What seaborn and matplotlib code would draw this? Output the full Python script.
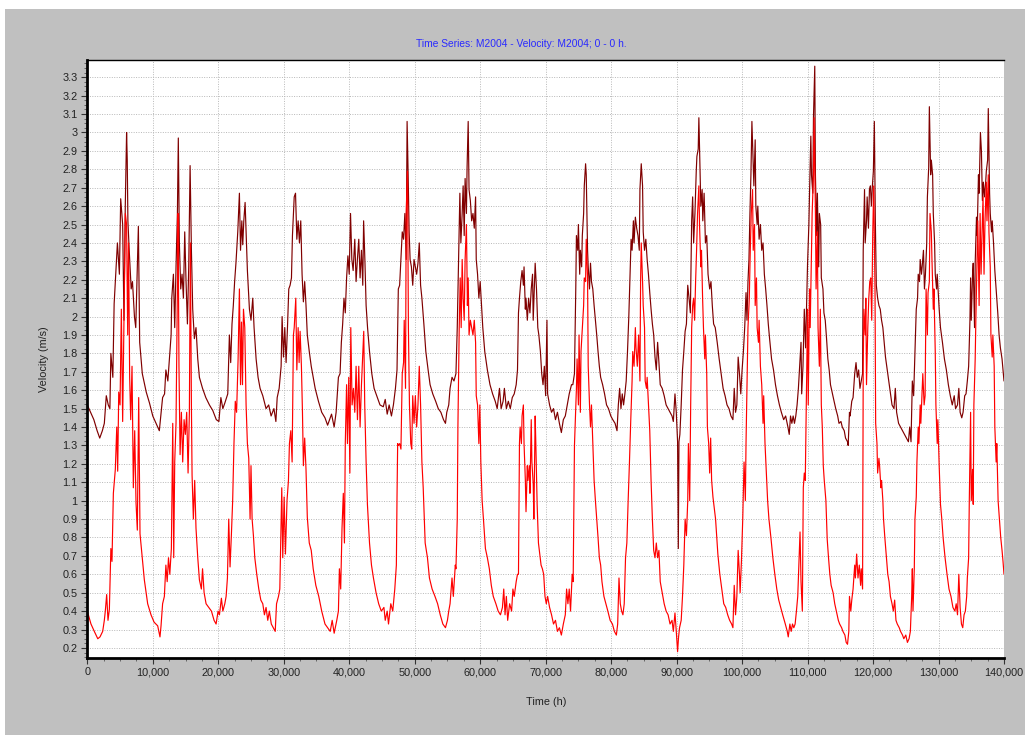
import numpy as np
import pandas as pd
import matplotlib
matplotlib.use("Agg")
import matplotlib.pyplot as plt
import matplotlib.patches as mpatches
from matplotlib.ticker import MultipleLocator, FuncFormatter
import seaborn as sns

# ---------------- data (time in thousands of hours, velocity in m/s) ----------------
upper = [
    (0, 1.52), (0.5, 1.48), (1.0, 1.44), (1.5, 1.38), (1.9, 1.34), (2.3, 1.38), (2.6, 1.42), (2.9, 1.57),
    (3.2, 1.52), (3.45, 1.5), (3.6, 1.8), (3.9, 1.67), (4.1, 2.07), (4.4, 2.27), (4.6, 2.4), (4.9, 2.23),
    (5.1, 2.64), (5.4, 2.5), (5.6, 1.98), (5.8, 2.6), (6.0, 3.0), (6.1, 2.85), (6.2, 2.52), (6.4, 2.36),
    (6.7, 2.15), (6.9, 2.19), (7.2, 2.0), (7.4, 1.94), (7.8, 2.49), (8.0, 1.86), (8.4, 1.69), (9.0, 1.59),
    (9.5, 1.53), (10.0, 1.46), (10.5, 1.42), (11.0, 1.38),
    (11.5, 1.56), (11.8, 1.58), (12.0, 1.71), (12.3, 1.65), (12.5, 1.75), (12.8, 1.9), (12.9, 2.1),
    (13.15, 2.23), (13.35, 1.94), (13.55, 2.27), (13.76, 2.56), (13.9, 2.97), (14.06, 2.4), (14.27, 2.15),
    (14.47, 2.23), (14.68, 2.1), (14.88, 2.46), (15.08, 2.19), (15.29, 1.96), (15.49, 2.27), (15.7, 2.82),
    (15.9, 2.36), (16.1, 2.04), (16.35, 1.88), (16.6, 1.94), (16.87, 1.77), (17.12, 1.67), (17.6, 1.61),
    (18.1, 1.56), (18.65, 1.52), (19.16, 1.49), (19.7, 1.44), (20.1, 1.43), (20.4, 1.56), (20.7, 1.5),
    (21.0, 1.53),
    (21.45, 1.58), (21.7, 1.9), (21.9, 1.75), (22.1, 1.96), (22.3, 2.06), (22.5, 2.19), (22.7, 2.29),
    (22.98, 2.46), (23.23, 2.67), (23.4, 2.36), (23.6, 2.52), (23.74, 2.39), (23.9, 2.52), (24.1, 2.62),
    (24.25, 2.46), (24.45, 2.25), (24.76, 2.04), (25.0, 1.98), (25.27, 2.1), (25.47, 1.94), (25.78, 1.77),
    (26.08, 1.67), (26.39, 1.61), (26.8, 1.57), (27.3, 1.5), (27.7, 1.52), (28.07, 1.46),
    (28.5, 1.5), (28.8, 1.43), (29.0, 1.56), (29.3, 1.61), (29.6, 1.73), (29.75, 2.0), (29.96, 1.78),
    (30.16, 1.94), (30.36, 1.75), (30.57, 1.94), (30.77, 2.15), (30.97, 2.17), (31.18, 2.21), (31.33, 2.44),
    (31.48, 2.56), (31.6, 2.65), (31.8, 2.67), (32.0, 2.42), (32.2, 2.52), (32.4, 2.4), (32.6, 2.52),
    (32.8, 2.23), (33.0, 2.08), (33.2, 2.19), (33.4, 2.06), (33.6, 1.9), (33.9, 1.81), (34.2, 1.73),
    (34.5, 1.67), (34.8, 1.61), (35.3, 1.54), (35.8, 1.48), (36.3, 1.45), (36.7, 1.41), (37.0, 1.44),
    (37.3, 1.47), (37.7, 1.4), (38.0, 1.48),
    (38.35, 1.67), (38.6, 1.69), (38.8, 1.86), (39.0, 1.96), (39.2, 2.1), (39.4, 2.02), (39.6, 2.21),
    (39.8, 2.33), (40.0, 2.23), (40.2, 2.56), (40.4, 2.31), (40.6, 2.25), (40.85, 2.42), (41.05, 2.19),
    (41.25, 2.31), (41.46, 2.42), (41.66, 2.21), (41.87, 2.36), (42.07, 2.17), (42.2, 2.52), (42.4, 2.3),
    (42.58, 2.06), (42.8, 1.94), (43.1, 1.81), (43.45, 1.69), (43.8, 1.61), (44.2, 1.57), (44.7, 1.52),
    (45.2, 1.51), (45.5, 1.55), (45.8, 1.47), (46.1, 1.52), (46.45, 1.46), (46.75, 1.52), (47.06, 1.61),
    (47.3, 1.71), (47.5, 2.15), (47.7, 2.17), (47.9, 2.31), (48.1, 2.46), (48.3, 2.42), (48.5, 2.56),
    (48.7, 2.31), (48.84, 3.06), (49.0, 2.77), (49.15, 2.46), (49.3, 2.31), (49.5, 2.27), (49.7, 2.17),
    (49.9, 2.31), (50.1, 2.27), (50.3, 2.23), (50.5, 2.29), (50.7, 2.4), (50.9, 2.17), (51.1, 2.1),
    (51.4, 1.96), (51.7, 1.81), (52.05, 1.71), (52.35, 1.63), (52.76, 1.58), (53.2, 1.54), (53.6, 1.5),
    (54.0, 1.48), (54.4, 1.44), (54.7, 1.42), (54.9, 1.48), (55.2, 1.52), (55.4, 1.61), (55.7, 1.67),
    (56.0, 1.65),
    (56.3, 1.69), (56.5, 1.94), (56.7, 2.31), (56.9, 2.67), (57.05, 2.4), (57.25, 2.56), (57.4, 2.71),
    (57.56, 2.44), (57.7, 2.75), (57.9, 2.56), (58.0, 2.81), (58.17, 3.06), (58.3, 2.69), (58.5, 2.63),
    (58.7, 2.52), (58.9, 2.56), (59.1, 2.48), (59.3, 2.65), (59.4, 2.31), (59.6, 2.23), (59.8, 2.1),
    (60.0, 2.19), (60.2, 2.06), (60.4, 1.94), (60.7, 1.81), (61.1, 1.71), (61.5, 1.63), (61.9, 1.58),
    (62.3, 1.54), (62.6, 1.5), (62.95, 1.61), (63.2, 1.5), (63.5, 1.54), (63.7, 1.61), (64.0, 1.5),
    (64.3, 1.54), (64.6, 1.5), (64.9, 1.56), (65.2, 1.58), (65.5, 1.63), (65.7, 1.71),
    (65.85, 2.02), (66.0, 2.1), (66.2, 2.19), (66.4, 2.25), (66.6, 2.17), (66.7, 2.27), (66.9, 2.04),
    (67.0, 2.1), (67.2, 1.98), (67.4, 2.1), (67.6, 2.02), (67.8, 2.15), (68.0, 2.23), (68.1, 1.98),
    (68.3, 2.19), (68.4, 2.29), (68.6, 2.15), (68.8, 1.94), (68.96, 1.9), (69.2, 1.81), (69.4, 1.69),
    (69.6, 1.63), (69.8, 1.73), (70.0, 1.57), (70.2, 1.98), (70.3, 1.58), (70.6, 1.52), (70.9, 1.48),
    (71.2, 1.5), (71.5, 1.44), (71.8, 1.48), (72.1, 1.42), (72.4, 1.37), (72.7, 1.44), (73.0, 1.46),
    (73.3, 1.52), (73.6, 1.58), (73.95, 1.63),
    (74.15, 1.63), (74.4, 1.69), (74.6, 2.15), (74.7, 2.44), (74.9, 2.36), (75.0, 2.5), (75.2, 2.23),
    (75.3, 2.36), (75.5, 2.27), (75.6, 2.44), (75.8, 2.56), (75.9, 2.71), (76.1, 2.83), (76.2, 2.77),
    (76.4, 2.36), (76.5, 2.27), (76.7, 2.15), (76.85, 2.29), (77.0, 2.19), (77.2, 2.15), (77.4, 2.06),
    (77.6, 1.98), (77.8, 1.9), (78.0, 1.81), (78.2, 1.73), (78.4, 1.67), (78.7, 1.63), (79.0, 1.58),
    (79.3, 1.52), (79.6, 1.5), (79.95, 1.46), (80.25, 1.44), (80.6, 1.42), (80.9, 1.38), (81.1, 1.52),
    (81.3, 1.61), (81.5, 1.5), (81.7, 1.58), (81.9, 1.52), (82.1, 1.58), (82.3, 1.65), (82.5, 1.81),
    (82.7, 2.0),
    (82.9, 2.23), (83.05, 2.42), (83.2, 2.36), (83.4, 2.52), (83.5, 2.4), (83.7, 2.54), (83.9, 2.48),
    (84.1, 2.44), (84.3, 2.36), (84.4, 2.69), (84.6, 2.83), (84.8, 2.71), (84.9, 2.46), (85.1, 2.36),
    (85.3, 2.42), (85.5, 2.31), (85.7, 2.23), (85.9, 2.13), (86.1, 2.04), (86.3, 1.96), (86.5, 1.9),
    (86.7, 1.78), (86.9, 1.71), (87.1, 1.86), (87.3, 1.75), (87.5, 1.63), (87.8, 1.61), (88.1, 1.57),
    (88.4, 1.52), (88.7, 1.5), (89.0, 1.48), (89.3, 1.46), (89.5, 1.43), (89.75, 1.58), (89.95, 1.48),
    (90.15, 1.32), (90.26, 0.74), (90.36, 1.32), (90.5, 1.36), (90.7, 1.52), (90.9, 1.71),
    (91.1, 1.81), (91.3, 1.92), (91.5, 1.96), (91.7, 2.17), (91.9, 2.1), (92.1, 2.02), (92.3, 2.52),
    (92.45, 2.65), (92.6, 2.4), (92.8, 2.56), (93.0, 2.79), (93.1, 2.87), (93.3, 2.91), (93.4, 3.08),
    (93.6, 2.77), (93.7, 2.6), (93.9, 2.69), (94.0, 2.52), (94.2, 2.67), (94.4, 2.4), (94.6, 2.44),
    (94.8, 2.23), (95.05, 2.15), (95.25, 2.19), (95.45, 2.06), (95.65, 1.96), (95.9, 1.94), (96.2, 1.86),
    (96.5, 1.77), (96.8, 1.69), (97.1, 1.61), (97.4, 1.57), (97.7, 1.52), (98.0, 1.5), (98.3, 1.46),
    (98.6, 1.44), (98.8, 1.61), (99.0, 1.48), (99.2, 1.52), (99.4, 1.78), (99.6, 1.69), (99.8, 1.58),
    (100.0, 1.71),
    (100.2, 1.81), (100.4, 1.94), (100.6, 2.13), (100.75, 1.98), (100.9, 2.19), (101.05, 2.31),
    (101.2, 2.56), (101.35, 2.77), (101.5, 3.06), (101.7, 2.83), (101.8, 2.71), (102.0, 2.96),
    (102.1, 2.6), (102.3, 2.5), (102.4, 2.6), (102.6, 2.42), (102.8, 2.5), (103.0, 2.36), (103.2, 2.4),
    (103.4, 2.23), (103.6, 2.15), (103.8, 2.06), (104.0, 1.96), (104.2, 1.88), (104.5, 1.77),
    (104.8, 1.71), (105.1, 1.63), (105.4, 1.57), (105.7, 1.52), (106.0, 1.48), (106.35, 1.44),
    (106.65, 1.46), (107.0, 1.4), (107.2, 1.36), (107.4, 1.46), (107.6, 1.42), (107.8, 1.46), (108.0, 1.42),
    (108.2, 1.46), (108.4, 1.52), (108.6, 1.61), (108.8, 1.73), (109.0, 1.86), (109.1, 1.58), (109.3, 1.73),
    (109.5, 2.04), (109.7, 1.83), (109.85, 2.06),
    (110.0, 2.29), (110.2, 2.5), (110.3, 2.67), (110.5, 2.98), (110.6, 2.77), (110.8, 2.67), (110.9, 3.08),
    (111.1, 3.36), (111.2, 2.77), (111.4, 2.44), (111.5, 2.67), (111.7, 2.27), (111.8, 2.56), (112.0, 2.5),
    (112.1, 2.21), (112.35, 2.15), (112.5, 2.02), (112.7, 1.98), (112.9, 1.88), (113.1, 1.77), (113.3, 1.71),
    (113.5, 1.63), (113.8, 1.58), (114.05, 1.54), (114.3, 1.5), (114.6, 1.46), (114.8, 1.42), (115.1, 1.43),
    (115.3, 1.4), (115.6, 1.38), (115.8, 1.34), (116.1, 1.32), (116.2, 1.3), (116.4, 1.48), (116.5, 1.46),
    (116.75, 1.54), (116.95, 1.56), (117.2, 1.69), (117.4, 1.75), (117.6, 1.67), (117.8, 1.71),
    (118.0, 1.61), (118.2, 1.65), (118.4, 1.69),
    (118.5, 2.36), (118.7, 2.69), (118.8, 2.4), (119.0, 2.52), (119.1, 2.65), (119.3, 2.48), (119.45, 2.69),
    (119.6, 2.71), (119.75, 2.6), (119.9, 2.71), (120.05, 2.79), (120.2, 3.06), (120.35, 2.52),
    (120.5, 2.17), (120.7, 2.1), (120.9, 2.06), (121.1, 2.04), (121.3, 1.98), (121.5, 1.94), (121.7, 1.86),
    (121.9, 1.78), (122.25, 1.69), (122.55, 1.61), (122.9, 1.52), (123.2, 1.5), (123.4, 1.61), (123.6, 1.48),
    (123.9, 1.42), (124.2, 1.4), (124.5, 1.38), (124.8, 1.36), (125.1, 1.34), (125.4, 1.32), (125.6, 1.4),
    (125.8, 1.32), (126.0, 1.65), (126.2, 1.57), (126.3, 1.69), (126.5, 1.94), (126.6, 2.04), (126.8, 2.1),
    (126.9, 2.23), (127.1, 2.19), (127.2, 2.31), (127.4, 2.23), (127.5, 2.27), (127.7, 2.36),
    (127.85, 2.15), (128.0, 2.23), (128.2, 2.4),
    (128.3, 2.65), (128.5, 2.81), (128.6, 3.14), (128.8, 2.77), (128.9, 2.85), (129.1, 2.77), (129.2, 2.56),
    (129.4, 2.4), (129.5, 2.23), (129.7, 2.15), (129.8, 2.23), (130.0, 2.1), (130.1, 2.04), (130.3, 1.94),
    (130.6, 1.86), (130.9, 1.77), (131.2, 1.71), (131.5, 1.63), (131.8, 1.57), (132.1, 1.52), (132.4, 1.57),
    (132.6, 1.5), (132.9, 1.52), (133.1, 1.61), (133.3, 1.48), (133.55, 1.45), (133.75, 1.48), (134.0, 1.57),
    (134.2, 1.58), (134.4, 1.65), (134.6, 1.73), (134.8, 1.98), (134.9, 2.21), (135.0, 1.98), (135.2, 2.23),
    (135.3, 2.29), (135.5, 1.94), (135.6, 2.29), (135.8, 2.54), (135.9, 2.44), (136.1, 2.77), (136.2, 2.67),
    (136.4, 3.0), (136.55, 2.9), (136.7, 2.63), (136.85, 2.73), (137.0, 2.65), (137.2, 2.73), (137.3, 2.79),
    (137.5, 2.85), (137.6, 3.13), (137.8, 2.67), (137.9, 2.56), (138.1, 2.46), (138.2, 2.52), (138.4, 2.4),
    (138.6, 2.25), (138.8, 2.15), (139.05, 2.02), (139.25, 1.9), (139.45, 1.83), (139.7, 1.77),
    (139.9, 1.69), (140.0, 1.65),
]

lower = [
    (0, 0.4), (0.56, 0.33), (1.07, 0.29), (1.6, 0.25), (1.94, 0.26), (2.35, 0.29), (2.6, 0.35), (2.75, 0.4),
    (2.96, 0.49), (3.16, 0.35), (3.37, 0.41), (3.6, 0.74), (3.77, 0.67), (3.98, 1.04), (4.28, 1.17),
    (4.5, 1.4), (4.64, 1.16), (4.8, 1.59), (5.0, 1.52), (5.2, 2.04), (5.4, 1.43), (5.6, 1.97), (5.81, 2.56),
    (6.0, 2.5), (6.17, 1.9), (6.3, 2.4), (6.47, 1.67), (6.63, 1.44), (6.83, 1.73), (7.03, 1.07),
    (7.24, 1.38), (7.44, 0.99), (7.64, 0.84), (7.85, 1.56), (8.05, 0.82), (8.36, 0.7), (8.71, 0.57),
    (9.22, 0.44), (9.73, 0.38), (10.2, 0.34), (10.75, 0.32), (11.1, 0.26),
    (11.26, 0.32), (11.5, 0.44), (11.77, 0.48), (12.0, 0.65), (12.2, 0.56), (12.4, 0.69), (12.6, 0.6),
    (12.84, 0.74), (13.05, 1.42), (13.2, 0.69), (13.35, 1.21), (13.55, 1.42), (13.76, 2.15), (13.86, 2.56),
    (14.0, 1.73), (14.17, 1.25), (14.37, 1.48), (14.57, 1.21), (14.78, 1.44), (14.98, 1.36), (15.18, 1.48),
    (15.39, 1.15), (15.59, 1.48), (15.74, 2.4), (15.9, 1.52), (16.0, 1.14), (16.2, 0.9), (16.4, 1.11),
    (16.6, 0.85), (16.87, 0.69), (17.12, 0.57), (17.42, 0.52), (17.6, 0.63), (17.84, 0.5), (18.14, 0.44),
    (18.55, 0.42), (18.96, 0.4), (19.36, 0.35), (19.67, 0.33), (19.97, 0.4), (20.18, 0.38), (20.48, 0.47),
    (20.7, 0.4), (21.0, 0.44),
    (21.2, 0.48), (21.4, 0.58), (21.6, 0.9), (21.8, 0.64), (22.0, 0.81), (22.2, 1.0), (22.4, 1.31),
    (22.6, 1.54), (22.8, 1.48), (23.03, 1.77), (23.23, 2.15), (23.4, 1.63), (23.55, 1.97), (23.7, 1.63),
    (23.85, 2.04), (24.05, 1.94), (24.25, 1.52), (24.45, 1.31), (24.66, 1.23), (24.86, 0.9), (25.0, 1.19),
    (25.17, 0.9), (25.37, 0.81), (25.58, 0.69), (25.88, 0.6), (26.19, 0.52), (26.5, 0.46), (26.8, 0.44),
    (27.05, 0.38), (27.3, 0.42), (27.56, 0.35), (27.8, 0.4), (28.1, 0.33),
    (28.4, 0.31), (28.7, 0.29), (28.9, 0.44), (29.2, 0.48), (29.4, 0.52), (29.7, 1.07), (29.85, 0.69),
    (30.06, 1.02), (30.26, 0.71), (30.5, 1.0), (30.72, 1.11), (30.87, 1.31), (31.08, 1.38), (31.28, 1.21),
    (31.48, 1.9), (31.6, 1.94), (31.84, 2.1), (32.0, 1.71), (32.2, 1.94), (32.35, 1.75), (32.5, 1.92),
    (32.7, 1.73), (32.86, 1.48), (33.0, 1.19), (33.2, 1.34), (33.4, 1.17), (33.6, 0.91), (33.9, 0.77),
    (34.2, 0.73), (34.5, 0.63), (34.9, 0.54), (35.35, 0.48), (35.8, 0.4), (36.3, 0.33), (36.7, 0.31),
    (37.1, 0.29), (37.4, 0.35), (37.7, 0.28), (38.1, 0.35),
    (38.35, 0.4), (38.5, 0.63), (38.7, 0.52), (38.9, 0.85), (39.1, 1.04), (39.27, 0.77), (39.4, 1.31),
    (39.6, 1.63), (39.73, 1.31), (39.93, 1.67), (40.1, 1.15), (40.24, 1.94), (40.44, 1.52), (40.65, 1.61),
    (40.85, 1.48), (41.05, 1.73), (41.26, 1.44), (41.46, 1.73), (41.66, 1.4), (41.87, 1.63), (42.07, 1.79),
    (42.22, 1.92), (42.37, 1.52), (42.58, 1.21), (42.78, 0.98), (43.1, 0.77), (43.4, 0.65), (43.7, 0.58),
    (44.1, 0.5), (44.5, 0.44), (44.9, 0.4), (45.3, 0.42), (45.5, 0.35), (45.8, 0.4), (46.0, 0.33),
    (46.35, 0.44), (46.65, 0.4), (46.96, 0.52),
    (47.2, 0.65), (47.3, 1.02), (47.4, 1.31), (47.5, 1.3), (47.7, 1.31), (47.9, 1.28), (48.1, 1.69),
    (48.3, 1.75), (48.4, 1.98), (48.6, 1.61), (48.7, 2.56), (48.9, 2.79), (49.04, 1.94), (49.2, 1.52),
    (49.4, 1.31), (49.55, 1.28), (49.7, 1.57), (49.9, 1.42), (50.1, 1.57), (50.3, 1.4), (50.5, 1.52),
    (50.7, 1.73), (50.9, 1.52), (51.1, 1.21), (51.3, 1.07), (51.6, 0.77), (51.95, 0.69), (52.25, 0.58),
    (52.66, 0.52), (53.1, 0.48), (53.5, 0.44), (53.9, 0.38), (54.3, 0.33), (54.7, 0.31), (55.0, 0.35),
    (55.2, 0.4), (55.4, 0.44), (55.7, 0.58), (55.9, 0.48), (56.2, 0.65),
    (56.3, 0.63), (56.5, 0.9), (56.6, 1.4), (56.8, 1.94), (56.95, 2.21), (57.1, 1.94), (57.25, 2.31),
    (57.4, 2.1), (57.56, 1.98), (57.7, 2.31), (57.9, 2.5), (58.05, 2.06), (58.17, 2.21), (58.3, 1.9),
    (58.5, 1.98), (58.7, 1.94), (58.9, 1.9), (59.1, 1.98), (59.3, 1.86), (59.4, 1.57), (59.6, 1.52),
    (59.8, 1.31), (59.95, 1.52), (60.1, 1.21), (60.3, 1.0), (60.5, 0.9), (60.8, 0.74), (61.1, 0.69),
    (61.4, 0.63), (61.7, 0.54), (62.0, 0.48), (62.4, 0.44), (62.75, 0.4), (63.1, 0.38), (63.4, 0.42),
    (63.6, 0.52), (63.8, 0.38), (64.0, 0.48), (64.2, 0.35), (64.5, 0.44), (64.8, 0.4), (65.0, 0.52),
    (65.2, 0.48), (65.5, 0.56), (65.7, 0.6),
    (65.85, 0.6), (66.0, 1.31), (66.1, 1.4), (66.3, 1.31), (66.4, 1.46), (66.6, 1.52), (66.7, 1.31),
    (66.9, 1.11), (67.0, 0.94), (67.2, 1.19), (67.3, 1.11), (67.5, 1.19), (67.6, 1.04), (67.8, 1.44),
    (67.9, 1.21), (68.1, 1.09), (68.2, 0.9), (68.4, 1.46), (68.5, 1.31), (68.7, 0.98), (68.9, 0.77),
    (69.1, 0.71), (69.3, 0.65), (69.5, 0.63), (69.7, 0.6), (69.9, 0.48), (70.1, 0.44), (70.3, 0.48),
    (70.6, 0.42), (70.9, 0.38), (71.2, 0.33), (71.5, 0.35), (71.8, 0.29), (72.1, 0.31), (72.4, 0.27),
    (72.7, 0.33), (73.0, 0.38), (73.2, 0.52), (73.4, 0.44), (73.6, 0.52), (73.8, 0.4), (74.05, 0.6),
    (74.2, 0.56), (74.4, 1.3), (74.5, 1.4), (74.7, 1.61), (74.8, 1.77), (75.0, 1.52), (75.1, 1.9),
    (75.3, 1.48), (75.4, 1.81), (75.6, 1.94), (75.8, 2.06), (75.9, 2.21), (76.1, 2.19), (76.2, 2.42),
    (76.4, 2.21), (76.5, 1.73), (76.7, 1.52), (76.85, 1.4), (77.0, 1.52), (77.2, 1.31), (77.4, 1.11),
    (77.6, 1.0), (77.8, 0.9), (78.0, 0.8), (78.2, 0.69), (78.4, 0.65), (78.6, 0.56), (78.9, 0.48),
    (79.2, 0.44), (79.5, 0.4), (79.85, 0.35), (80.2, 0.33), (80.5, 0.29), (80.8, 0.27), (81.0, 0.33),
    (81.2, 0.58), (81.4, 0.44), (81.6, 0.4), (81.8, 0.38), (82.0, 0.44), (82.2, 0.69), (82.4, 0.77),
    (82.6, 1.0), (82.8, 1.21),
    (83.0, 1.44), (83.2, 1.65), (83.3, 1.81), (83.5, 1.73), (83.7, 1.94), (83.8, 1.83), (84.0, 1.73),
    (84.2, 1.9), (84.4, 1.65), (84.5, 2.19), (84.6, 2.4), (84.8, 2.19), (84.9, 2.06), (85.1, 1.94),
    (85.2, 1.65), (85.4, 1.61), (85.5, 1.67), (85.7, 1.52), (85.9, 1.38), (86.1, 1.11), (86.3, 0.9),
    (86.5, 0.73), (86.7, 0.69), (86.9, 0.77), (87.1, 0.69), (87.3, 0.73), (87.5, 0.56), (87.8, 0.5),
    (88.1, 0.44), (88.4, 0.4), (88.7, 0.38), (89.0, 0.33), (89.3, 0.35), (89.5, 0.29), (89.75, 0.39),
    (89.95, 0.29), (90.15, 0.18), (90.3, 0.26), (90.45, 0.31), (90.7, 0.35), (90.9, 0.48), (91.1, 0.65),
    (91.3, 0.9), (91.5, 0.81), (91.7, 1.0), (91.8, 1.31), (92.0, 1.0), (92.15, 1.52),
    (92.3, 1.94), (92.45, 2.06), (92.6, 2.1), (92.75, 1.98), (92.9, 2.19), (93.05, 2.36), (93.2, 2.56),
    (93.4, 2.71), (93.5, 2.5), (93.7, 2.27), (93.8, 2.36), (93.97, 2.1), (94.1, 1.94), (94.3, 1.77),
    (94.4, 1.9), (94.6, 1.69), (94.7, 1.4), (94.9, 1.31), (95.05, 1.15), (95.2, 1.34), (95.35, 1.11),
    (95.55, 1.02), (95.75, 0.96), (95.95, 0.9), (96.3, 0.71), (96.6, 0.6), (96.9, 0.52), (97.2, 0.44),
    (97.5, 0.42), (97.8, 0.38), (98.1, 0.35), (98.4, 0.33), (98.6, 0.31), (98.8, 0.54), (99.0, 0.38),
    (99.2, 0.48), (99.4, 0.73), (99.6, 0.6), (99.7, 0.5), (99.9, 0.67), (100.1, 0.9), (100.3, 1.21),
    (100.5, 1.0), (100.6, 1.31), (100.8, 1.73), (100.9, 1.94),
    (101.1, 2.1), (101.25, 2.36), (101.4, 2.56), (101.6, 2.69), (101.7, 2.36), (101.9, 2.5), (102.0, 2.06),
    (102.2, 2.21), (102.3, 1.94), (102.5, 1.86), (102.6, 1.98), (102.8, 1.73), (103.0, 1.63), (103.2, 1.42),
    (103.3, 1.57), (103.5, 1.31), (103.7, 1.15), (103.9, 1.0), (104.1, 0.9), (104.4, 0.8), (104.7, 0.69),
    (105.0, 0.6), (105.3, 0.52), (105.6, 0.46), (105.9, 0.42), (106.2, 0.38), (106.6, 0.33), (106.9, 0.29),
    (107.05, 0.26), (107.3, 0.33), (107.5, 0.29), (107.7, 0.33), (107.9, 0.31), (108.1, 0.33), (108.3, 0.4),
    (108.5, 0.48), (108.7, 0.69), (108.85, 0.83), (109.0, 0.56), (109.2, 0.4), (109.35, 1.07),
    (109.5, 1.15), (109.65, 1.11), (109.8, 1.52),
    (110.0, 2.04), (110.1, 1.52), (110.3, 2.15), (110.4, 1.94), (110.6, 2.36), (110.7, 2.56), (110.9, 2.77),
    (111.0, 3.08), (111.2, 2.56), (111.3, 2.15), (111.5, 2.46), (111.6, 1.94), (111.8, 1.73), (111.95, 2.04),
    (112.1, 1.52), (112.25, 1.4), (112.4, 1.19), (112.55, 1.11), (112.8, 1.0), (113.0, 0.79), (113.2, 0.69),
    (113.4, 0.6), (113.6, 0.54), (113.9, 0.5), (114.15, 0.44), (114.4, 0.4), (114.7, 0.35), (114.9, 0.33),
    (115.2, 0.31), (115.4, 0.29), (115.7, 0.27), (115.9, 0.23), (116.1, 0.22), (116.3, 0.29), (116.4, 0.48),
    (116.6, 0.4), (116.75, 0.46), (116.95, 0.52), (117.2, 0.65), (117.3, 0.58), (117.5, 0.71), (117.7, 0.58),
    (117.9, 0.65), (118.1, 0.54), (118.2, 0.63), (118.4, 0.52),
    (118.5, 1.73), (118.6, 2.04), (118.8, 1.9), (118.9, 2.1), (119.0, 1.63), (119.2, 1.94), (119.35, 2.1),
    (119.5, 2.19), (119.65, 2.21), (119.8, 1.98), (119.95, 2.44), (120.1, 2.71), (120.3, 2.15), (120.4, 1.42),
    (120.6, 1.31), (120.7, 1.15), (120.9, 1.23), (121.0, 1.19), (121.2, 1.07), (121.3, 1.11), (121.5, 1.0),
    (121.6, 0.9), (121.8, 0.8), (122.05, 0.69), (122.25, 0.6), (122.45, 0.56), (122.65, 0.48), (122.9, 0.44),
    (123.1, 0.4), (123.3, 0.46), (123.5, 0.35), (123.7, 0.33), (124.0, 0.31), (124.2, 0.29), (124.5, 0.27),
    (124.7, 0.25), (125.0, 0.27), (125.25, 0.23), (125.5, 0.25), (125.7, 0.29), (125.9, 0.48), (126.0, 0.63),
    (126.1, 0.4), (126.3, 0.63), (126.4, 0.9), (126.6, 1.02), (126.7, 1.21), (126.9, 1.4), (127.0, 1.31),
    (127.2, 1.52), (127.3, 1.42), (127.5, 1.61), (127.6, 1.69), (127.8, 1.52), (127.95, 1.57),
    (128.1, 2.15), (128.3, 1.9), (128.4, 2.13), (128.6, 2.19), (128.7, 2.56), (128.9, 2.46), (129.0, 2.31),
    (129.2, 2.04), (129.3, 2.15), (129.5, 1.81), (129.6, 1.52), (129.8, 1.31), (129.9, 1.44), (130.1, 1.19),
    (130.3, 0.98), (130.5, 0.9), (130.7, 0.8), (131.0, 0.69), (131.3, 0.6), (131.6, 0.52), (131.9, 0.48),
    (132.2, 0.42), (132.5, 0.4), (132.7, 0.44), (132.9, 0.38), (133.1, 0.6), (133.3, 0.42), (133.5, 0.33),
    (133.7, 0.31), (133.9, 0.38), (134.1, 0.4), (134.3, 0.48), (134.4, 0.58), (134.6, 0.69), (134.7, 1.0),
    (134.9, 1.48), (135.0, 1.0), (135.2, 1.17), (135.3, 0.98), (135.4, 1.52), (135.6, 1.77), (135.7, 1.98),
    (135.9, 2.36), (136.0, 2.52), (136.2, 2.06), (136.35, 2.56), (136.5, 2.23), (136.65, 2.46), (136.8, 2.65),
    (136.95, 2.23), (137.1, 2.52), (137.3, 2.73), (137.4, 2.52), (137.6, 2.77), (137.7, 2.46), (137.9, 2.27),
    (138.0, 1.9), (138.2, 1.78), (138.3, 1.9), (138.5, 1.73), (138.6, 1.4), (138.8, 1.21), (138.9, 1.31),
    (139.1, 1.0), (139.3, 0.9), (139.5, 0.8), (139.7, 0.73), (139.85, 0.67), (140.0, 0.6),
]

title_text = "Time Series: M2004 - Velocity: M2004; 0 - 0 h."
x_label = "Time (h)"
y_label = "Velocity (m/s)"

# ---------------- build frames ----------------
def to_frame(points):
    arr = np.array(points, dtype=float)
    df = pd.DataFrame({"time": arr[:, 0] * 1000.0, "velocity": arr[:, 1]})
    return df.sort_values("time").drop_duplicates("time")

df_upper = to_frame(upper)
df_lower = to_frame(lower)

# ---------------- figure ----------------
sns.set_theme(style="white")
plt.rcParams["font.family"] = ["Liberation Sans", "DejaVu Sans"]

W, H = 1025, 735
fig = plt.figure(figsize=(W / 100, H / 100), dpi=100, facecolor="white")
bg = mpatches.Rectangle((5 / W, 0), 1 - 5 / W, 1 - 9 / H, transform=fig.transFigure,
                        facecolor="#c0c0c0", edgecolor="none", zorder=-10)
fig.patches.append(bg)

left, right, top, bottom = 87.3, 1004.0, 60.3, 657.7
ax = fig.add_axes([left / W, 1 - bottom / H, (right - left) / W, (bottom - top) / H])
ax.set_zorder(5)
ax.set_facecolor("white")

sns.lineplot(data=df_upper, x="time", y="velocity", ax=ax, color="#800000", linewidth=0.85,
             estimator=None, legend=False)
sns.lineplot(data=df_lower, x="time", y="velocity", ax=ax, color="#ff0000", linewidth=0.85,
             estimator=None, legend=False)

ax.set_xlim(0, 140000)
ax.set_ylim(0.147, 3.392)

ax.xaxis.set_major_locator(MultipleLocator(10000))
ax.xaxis.set_minor_locator(MultipleLocator(2500))
ax.yaxis.set_major_locator(MultipleLocator(0.1))
ax.yaxis.set_minor_locator(MultipleLocator(0.025))
ax.xaxis.set_major_formatter(FuncFormatter(lambda v, p: f"{v:,.0f}"))
ax.yaxis.set_major_formatter(FuncFormatter(lambda v, p: f"{v:.1f}".rstrip("0").rstrip(".")))

ax.tick_params(axis="both", which="major", direction="out", length=4, width=0.8, color="#333333",
               labelsize=7.8, labelcolor="#222222", pad=3, bottom=True, left=True)
ax.tick_params(axis="both", which="minor", direction="out", length=2.5, width=0.6, color="#555555",
               bottom=True, left=True)

ax.grid(True, which="major", color="#b8b8b8", linestyle=(0, (1, 1.5)), linewidth=0.7)
ax.set_axisbelow(True)

for side in ["left", "bottom"]:
    ax.spines[side].set_visible(True)
    ax.spines[side].set_color("black")
    ax.spines[side].set_linewidth(2.0)
ax.spines["top"].set_visible(True)
ax.spines["top"].set_color("black")
ax.spines["top"].set_linewidth(1.0)
ax.spines["right"].set_visible(False)

ax.set_xlabel(x_label, fontsize=7.8, color="#222222")
ax.set_ylabel(y_label, fontsize=7.8, color="#222222")
ax.xaxis.set_label_coords((546 - left) / (right - left), -(702 - bottom) / (bottom - top))
ax.yaxis.set_label_coords((44 - left) / (right - left), (bottom - 359) / (bottom - top))
ax.xaxis.label.set_va("center")
ax.yaxis.label.set_va("center")

fig.text(521 / W, 1 - 44 / H, title_text, color="#2a2aff", fontsize=7.4, ha="center", va="center")

fig.savefig("out.png", dpi=100, facecolor=fig.get_facecolor())
